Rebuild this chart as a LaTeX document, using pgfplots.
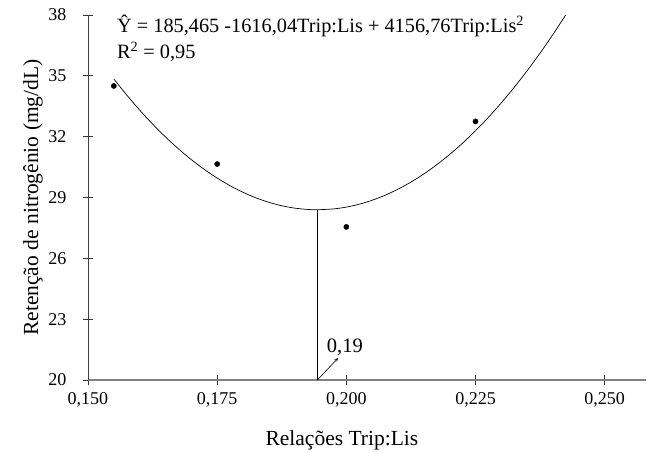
\documentclass[border=0pt]{standalone}
\usepackage{pgfplots}
\pgfplotsset{compat=1.18}
\usepackage{fontspec}
\setmainfont{Liberation Serif}
\begin{document}
\begin{tikzpicture}
\begin{axis}[
  at={(0,0)}, anchor=south west,
  scale only axis, width=558pt, height=365pt,
  xmin=0.150, xmax=0.258, ymin=20, ymax=38,
  axis x line*=bottom, axis y line*=left,
  x axis line style={draw=black!50, line width=1.3pt, -},
  y axis line style={draw=black!75, line width=0.8pt, -},
  xtick={0.150,0.175,0.200,0.225,0.250},
  ytick={20,23,26,29,32,35,38},
  tick align=center, major tick length=10pt,
  tick style={black!80, line width=0.8pt},
  /pgf/number format/assume math mode=true,
  xticklabel style={/pgf/number format/fixed, /pgf/number format/fixed zerofill, /pgf/number format/precision=3, /pgf/number format/use comma, yshift=-4pt},
  tick label style={font=\fontsize{18}{18}\selectfont},
  yticklabel style={xshift=-13pt},
  xlabel={Relações Trip:Lis},
  ylabel={Retenção de nitrogênio (mg/dL)},
  label style={font=\fontsize{21.5}{24}\selectfont},
  xlabel style={at={(axis description cs:0.455,-0.1644)}, anchor=center},
  ylabel style={at={(axis description cs:-0.0986,0.5)}, anchor=center},
  clip=false,
]
\addplot[black, line width=0.7pt, smooth] coordinates {
(0.155,34.845)(0.1575,34.053)(0.160,33.312)(0.1625,32.622)(0.165,31.986)
(0.1675,31.401)(0.170,30.868)(0.1725,30.387)(0.175,29.959)(0.1775,29.582)
(0.180,29.257)(0.1825,28.984)(0.185,28.763)(0.1875,28.593)(0.190,28.476)
(0.1925,28.411)(0.1944,28.397)(0.1975,28.437)(0.200,28.527)(0.2025,28.670)
(0.205,28.865)(0.2075,29.111)(0.210,29.410)(0.2125,29.760)(0.215,30.162)
(0.2175,30.617)(0.220,31.123)(0.2225,31.682)(0.225,32.292)(0.2275,32.954)
(0.230,33.669)(0.2325,34.435)(0.235,35.253)(0.2375,36.122)(0.240,37.044)
(0.24245,38.0)};
\addplot[only marks, mark=*, mark size=2.6pt, black] coordinates {
(0.155,34.5)(0.175,30.65)(0.200,27.55)(0.225,32.75)};
\addplot[black, line width=0.7pt] coordinates {(0.1944,20)(0.1944,28.397)};
\draw[->, >=stealth, black, line width=0.6pt] (axis cs:0.1944,20) -- (axis cs:0.1984,21.08);
\node[anchor=base west, inner sep=0pt, font=\fontsize{20.5}{20}\selectfont] at (axis cs:0.1962,21.38) {0,19};
\node[anchor=base west, inner sep=0pt, font=\fontsize{20.3}{20}\selectfont] at (axis cs:0.1556,37.12) {Ŷ = 185,465 -1616,04Trip:Lis + 4156,76Trip:Lis\textsuperscript{2}};
\node[anchor=base west, inner sep=0pt, font=\fontsize{20.3}{20}\selectfont] at (axis cs:0.1556,35.85) {R\textsuperscript{2} = 0,95};
\end{axis}
\pgfresetboundingbox
\path[use as bounding box] (-88pt,-72pt) rectangle (559pt,380pt);
\end{tikzpicture}
\end{document}
